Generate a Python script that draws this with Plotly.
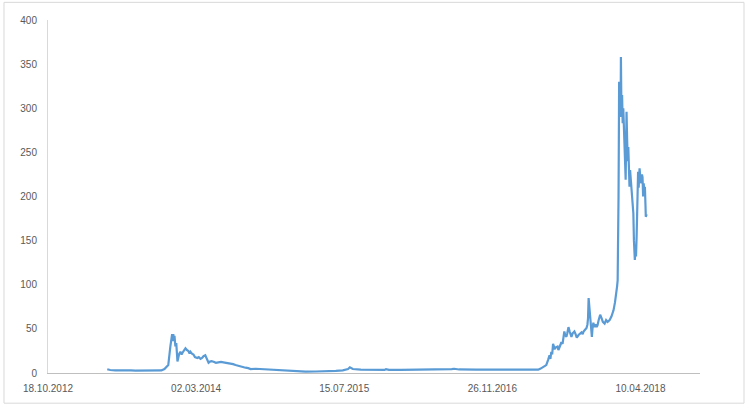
import plotly.graph_objects as go

dates = [
    "2013-05-06", "2013-05-16", "2013-06-02", "2013-06-20", "2013-07-06", "2013-07-25",
    "2013-08-09", "2013-08-25", "2013-09-11", "2013-09-28", "2013-10-15", "2013-11-05",
    "2013-11-15", "2013-11-21", "2013-11-28", "2013-12-05", "2013-12-08", "2013-12-11",
    "2013-12-13", "2013-12-15", "2013-12-17", "2013-12-19", "2013-12-22", "2013-12-25",
    "2013-12-29", "2014-01-01", "2014-01-04", "2014-01-08", "2014-01-12", "2014-01-15",
    "2014-01-20", "2014-01-25", "2014-01-30", "2014-02-04", "2014-02-08", "2014-02-11",
    "2014-02-16", "2014-02-21", "2014-02-26", "2014-03-06", "2014-03-11", "2014-03-17",
    "2014-03-22", "2014-03-27", "2014-04-02", "2014-04-06", "2014-04-09", "2014-04-13",
    "2014-04-18", "2014-04-23", "2014-04-30", "2014-05-08", "2014-05-16", "2014-05-25",
    "2014-06-02", "2014-06-14", "2014-06-26", "2014-07-05", "2014-07-13", "2014-07-22",
    "2014-07-30", "2014-08-08", "2014-08-16", "2014-08-25", "2014-09-02", "2014-09-19",
    "2014-10-06", "2014-10-25", "2014-11-09", "2014-11-25", "2014-12-12", "2014-12-28",
    "2015-01-15", "2015-02-08", "2015-03-07", "2015-04-10", "2015-05-14", "2015-06-17",
    "2015-07-10", "2015-07-20", "2015-07-28", "2015-08-03", "2015-08-08", "2015-08-13",
    "2015-09-09", "2015-10-13", "2015-11-16", "2015-11-28", "2015-12-03", "2015-12-13",
    "2016-01-23", "2016-03-13", "2016-05-03", "2016-06-23", "2016-07-12", "2016-07-20",
    "2016-08-06", "2016-10-02", "2016-11-22", "2017-01-12", "2017-03-04", "2017-04-07",
    "2017-04-30", "2017-05-08", "2017-05-16", "2017-05-22", "2017-05-27", "2017-06-02",
    "2017-06-07", "2017-06-10", "2017-06-13", "2017-06-16", "2017-06-19", "2017-06-22",
    "2017-06-24", "2017-06-28", "2017-07-04", "2017-07-07", "2017-07-10", "2017-07-14",
    "2017-07-17", "2017-07-21", "2017-07-24", "2017-07-27", "2017-07-30", "2017-08-03",
    "2017-08-06", "2017-08-10", "2017-08-14", "2017-08-17", "2017-08-20", "2017-08-24",
    "2017-08-30", "2017-09-03", "2017-09-07", "2017-09-13", "2017-09-18", "2017-09-23",
    "2017-09-27", "2017-09-30", "2017-10-05", "2017-10-10", "2017-10-13", "2017-10-15",
    "2017-10-17", "2017-10-19", "2017-10-21", "2017-10-23", "2017-10-26", "2017-10-28",
    "2017-10-30", "2017-11-02", "2017-11-06", "2017-11-10", "2017-11-13", "2017-11-16",
    "2017-11-20", "2017-11-25", "2017-11-30", "2017-12-04", "2017-12-10", "2017-12-15",
    "2017-12-20", "2017-12-27", "2018-01-02", "2018-01-09", "2018-01-14", "2018-01-19",
    "2018-01-21", "2018-01-23", "2018-01-25", "2018-01-26", "2018-01-27", "2018-01-28",
    "2018-01-29", "2018-01-30", "2018-02-01", "2018-02-02", "2018-02-03", "2018-02-04",
    "2018-02-05", "2018-02-07", "2018-02-09", "2018-02-11", "2018-02-13", "2018-02-15",
    "2018-02-17", "2018-02-19", "2018-02-21", "2018-02-22", "2018-02-24", "2018-02-26",
    "2018-02-28", "2018-03-02", "2018-03-04", "2018-03-06", "2018-03-08", "2018-03-11",
    "2018-03-14", "2018-03-17", "2018-03-19", "2018-03-22", "2018-03-24", "2018-03-26",
    "2018-03-28", "2018-03-30", "2018-03-31", "2018-04-02", "2018-04-04", "2018-04-05",
    "2018-04-07", "2018-04-10", "2018-04-13", "2018-04-15", "2018-04-17", "2018-04-19",
    "2018-04-21", "2018-04-23", "2018-04-25", "2018-04-27", "2018-04-28", "2018-05-01",
]

values = [
    4.3, 3.4, 3.0, 3.2, 2.8, 2.9,
    2.6, 2.7, 2.5, 2.6, 2.4, 2.9,
    4.5, 6.5, 9, 30, 40, 44,
    36, 44, 38, 42, 30, 34,
    13, 18, 22, 24, 21, 23,
    26, 28, 26, 25, 22, 24,
    22, 21, 18, 17, 18, 16,
    17, 19, 20, 17, 15, 11.7,
    13, 13.5, 12.8, 11.5, 12, 12.5,
    12, 11.5, 11, 10, 9, 8,
    7, 6.5, 6, 5.5, 4.5, 4.8,
    4.5, 4.0, 3.8, 3.6, 3.2, 2.8,
    2.0, 1.5, 1.6, 1.7, 1.8, 2.3,
    3.0, 3.5, 4.5, 6.5, 5.0, 4.5,
    3.8, 3.6, 3.7, 3.5, 4.3, 3.6,
    3.5, 3.6, 3.8, 4.2, 4.4, 4.8,
    4.0, 3.8, 3.9, 3.8, 3.9, 3.6,
    3.8, 5.0, 6.4, 8, 9, 14.7,
    20, 16, 24, 21, 33, 30,
    27, 29, 30, 26, 28, 32,
    35, 33, 40, 47, 43, 41,
    45, 52, 47, 44, 41, 45,
    47, 44, 40, 43, 45, 46,
    44, 47, 49, 51, 55, 62,
    85, 75, 69, 55, 48, 41,
    50, 57, 52, 55, 52, 54,
    60, 66, 62, 58, 56, 60,
    58, 60, 64, 71, 80, 90,
    98, 105, 150, 200, 260, 330,
    310, 300, 320, 290, 358, 315,
    290, 315, 283, 300, 270, 265,
    240, 219, 260, 296, 265, 240,
    256, 225, 211, 230, 220, 200,
    190, 181, 150, 128, 140, 132,
    154, 175, 200, 228, 210, 215,
    232, 220, 215, 225, 222, 200,
    215, 205, 211, 190, 177, 180,
]

tick_dates = ["2012-10-18", "2014-03-02", "2015-07-15", "2016-11-26", "2018-04-10"]
tick_labels = ["18.10.2012", "02.03.2014", "15.07.2015", "26.11.2016", "10.04.2018"]
y_ticks = [0, 50, 100, 150, 200, 250, 300, 350, 400]

fig = go.Figure()
fig.add_trace(go.Scatter(
    x=dates, y=values, mode="lines",
    line=dict(color="#5B9BD5", width=2.2),
    showlegend=False,
))

fig.update_layout(
    width=750, height=412,
    margin=dict(l=48, r=50, t=20, b=39),
    paper_bgcolor="white", plot_bgcolor="white",
    font=dict(family="Liberation Sans, Arial, sans-serif", size=10, color="#595959"),
    xaxis=dict(
        type="date",
        range=["2012-10-18", "2018-10-28"],
        tickvals=tick_dates, ticktext=tick_labels,
        showgrid=False, zeroline=False,
        showline=True, linecolor="#BFBFBF", linewidth=1,
        ticks="", ticklabelstandoff=6,
    ),
    yaxis=dict(
        range=[0, 400], tickvals=y_ticks,
        showgrid=False, zeroline=False,
        showline=True, linecolor="#D9D9D9", linewidth=1,
        ticks="", ticklabelstandoff=8,
    ),
    shapes=[dict(
        type="rect", xref="paper", yref="paper",
        x0=-0.0675, x1=1.0675, y0=-0.0855, y1=1.05,
        line=dict(color="#D9D9D9", width=1), fillcolor="rgba(0,0,0,0)",
        layer="below",
    )],
)

fig.write_html(
    "out.html",
    config={"displayModeBar": False},
    post_script="document.body.style.margin='0';document.body.style.overflow='hidden';",
)
